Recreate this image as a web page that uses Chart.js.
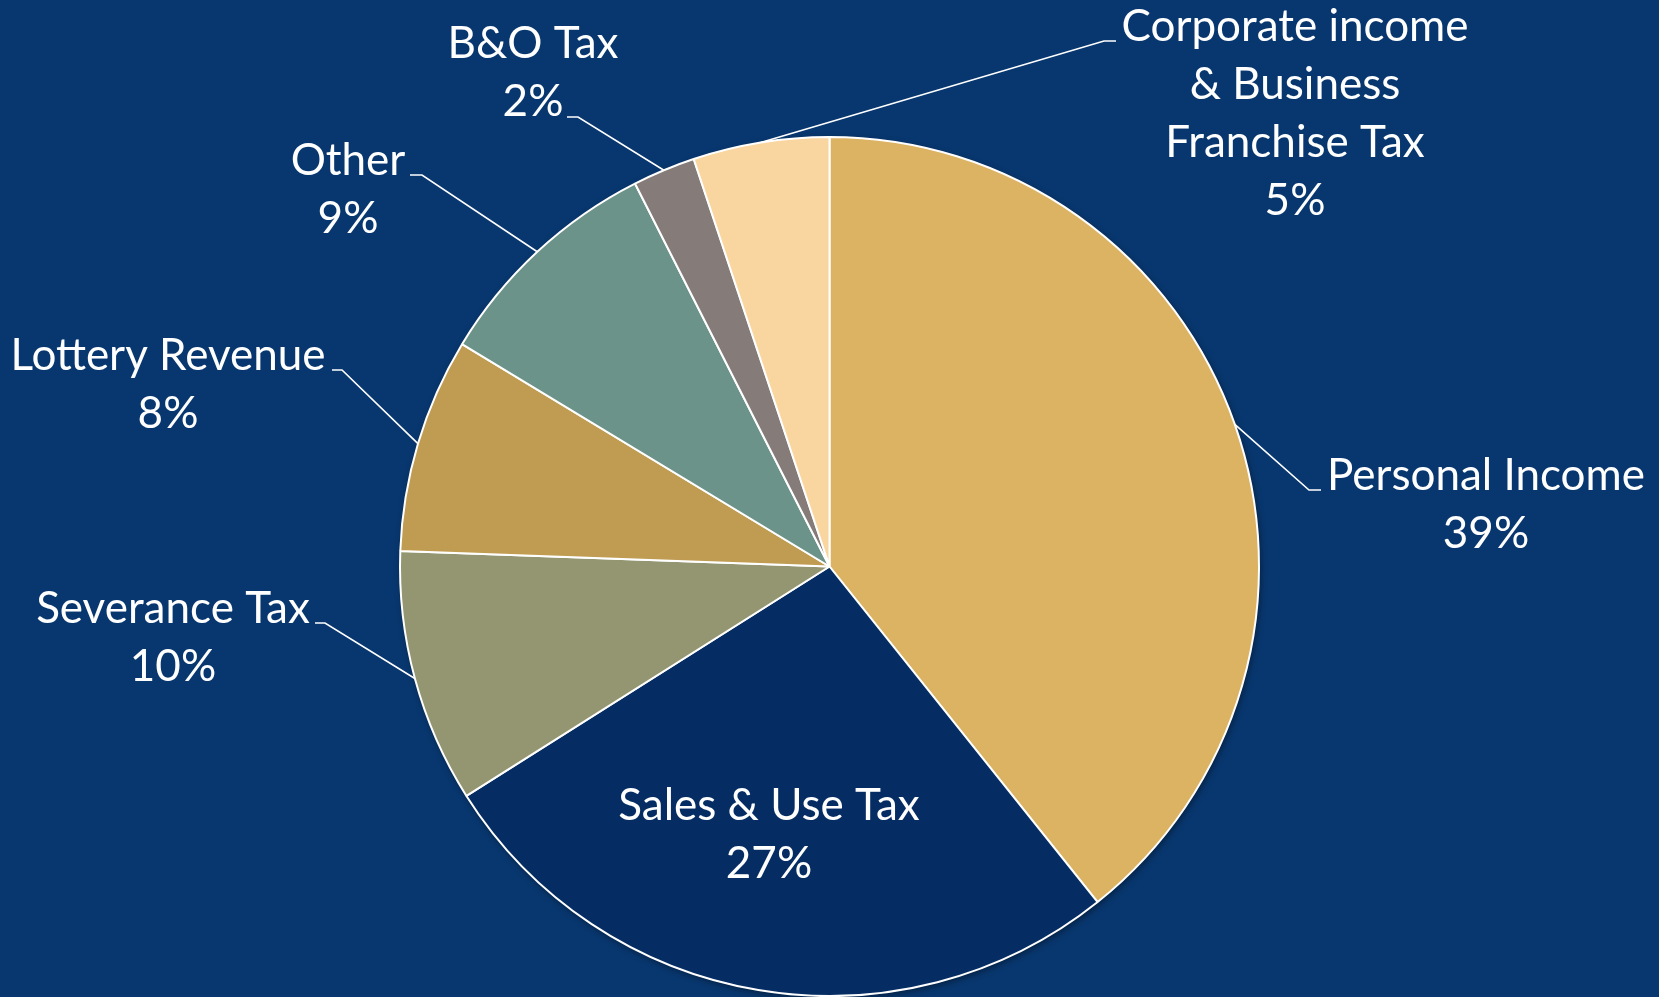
<!DOCTYPE html>
<html>
<head>
<meta charset="utf-8">
<script src="https://cdn.jsdelivr.net/npm/chart.js@4/dist/chart.umd.min.js"></script>
<style>
  html, body { margin: 0; padding: 0; background: #08376F; overflow: hidden; }
  #wrap { width: 1659px; height: 997px; }
</style>
</head>
<body>
<div id="wrap"><canvas id="c" width="1659" height="997"></canvas></div>
<script>
// ---- data ----
const categories = ['Personal Income', 'Sales & Use Tax', 'Severance Tax', 'Lottery Revenue', 'Other', 'B&O Tax', 'Corporate income & Business Franchise Tax'];
const labelLines = [['Personal Income'], ['Sales & Use Tax'], ['Severance Tax'], ['Lottery Revenue'], ['Other'], ['B&O Tax'], ['Corporate income', '& Business', 'Franchise Tax']];
const shares = [39.27, 26.76, 9.54, 8.09, 8.86, 2.36, 5.12];
const sliceColors = ['#DCB263', '#062D63', '#939671', '#BF9C52', '#6B9389', '#857B78', '#F9D59F'];

// ---- label layout (text centre x, first baseline y, leader elbow, leader end) ----
const labelLayout = [
  { cx: 1486, by: 490, elbow: [1309, 490], end: [1321, 490] },
  { cx: 769,  by: 820, elbow: null, end: null },
  { cx: 173,  by: 623, elbow: [325, 623], end: [315, 623] },
  { cx: 168,  by: 370, elbow: [342, 370], end: [332, 370] },
  { cx: 348,  by: 175, elbow: [422, 175], end: [410, 175] },
  { cx: 533,  by: 58,  elbow: [578, 117], end: [567, 117] },
  { cx: 1295, by: 41,  elbow: [1104, 41], end: [1116, 41] }
];
const LINE_GAP = 58;
const FONT_FAMILY = 'Lato, "Open Sans", sans-serif';

const bgPlugin = {
  id: 'bg',
  beforeDraw(chart) {
    const ctx = chart.ctx;
    ctx.save();
    ctx.fillStyle = '#08376F';
    ctx.fillRect(0, 0, chart.width, chart.height);
    ctx.restore();
  }
};

const shadowPlugin = {
  id: 'pieShadow',
  beforeDatasetsDraw(chart) {
    const arc = chart.getDatasetMeta(0).data[0];
    if (!arc) return;
    const ctx = chart.ctx;
    ctx.save();
    ctx.shadowColor = 'rgba(0,0,0,0.45)';
    ctx.shadowBlur = 7;
    ctx.shadowOffsetX = 1.5;
    ctx.shadowOffsetY = 2.5;
    ctx.fillStyle = '#062D63';
    ctx.beginPath();
    ctx.arc(arc.x, arc.y, arc.outerRadius, 0, Math.PI * 2);
    ctx.fill();
    ctx.restore();
  }
};

const labelPlugin = {
  id: 'pieLabels',
  afterDatasetsDraw(chart) {
    const ctx = chart.ctx;
    const meta = chart.getDatasetMeta(0);
    ctx.save();
    ctx.font = '100px ' + FONT_FAMILY;
    const fs = 100 * 318 / ctx.measureText('Personal Income').width;
    ctx.font = fs.toFixed(1) + 'px ' + FONT_FAMILY;
    ctx.fillStyle = '#FFFFFF';
    ctx.strokeStyle = '#FFFFFF';
    ctx.lineWidth = 1.6;
    ctx.textAlign = 'center';
    ctx.textBaseline = 'alphabetic';
    meta.data.forEach((arc, i) => {
      const L = labelLayout[i];
      if (L.elbow) {
        const mid = (arc.startAngle + arc.endAngle) / 2;
        const ax = arc.x + arc.outerRadius * Math.cos(mid);
        const ay = arc.y + arc.outerRadius * Math.sin(mid);
        ctx.beginPath();
        ctx.moveTo(ax, ay);
        ctx.lineTo(L.elbow[0], L.elbow[1]);
        ctx.lineTo(L.end[0], L.end[1]);
        ctx.stroke();
      }
      const lines = labelLines[i].concat([Math.round(shares[i]) + '%']);
      lines.forEach((t, k) => ctx.fillText(t, L.cx, L.by + k * LINE_GAP));
    });
    ctx.restore();
  }
};

new Chart(document.getElementById('c'), {
  type: 'pie',
  data: {
    labels: categories,
    datasets: [{
      data: shares,
      backgroundColor: sliceColors,
      borderColor: '#FFFFFF',
      borderWidth: 2
    }]
  },
  options: {
    responsive: false,
    animation: false,
    layout: { padding: { left: 399, right: 399, top: 136, bottom: 0 } },
    plugins: { legend: { display: false }, tooltip: { enabled: false } }
  },
  plugins: [bgPlugin, shadowPlugin, labelPlugin]
});
</script>
</body>
</html>
